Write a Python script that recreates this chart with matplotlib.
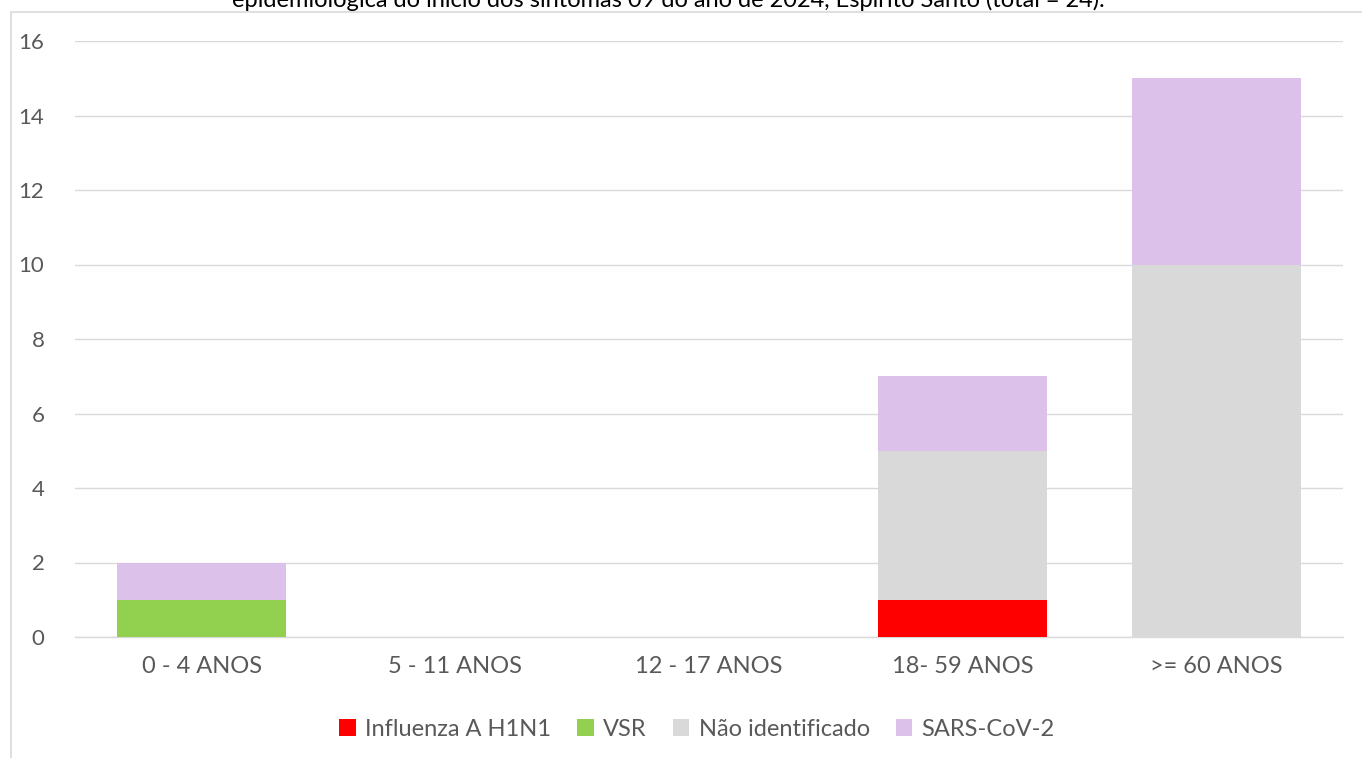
import matplotlib
matplotlib.use("Agg")
import matplotlib.pyplot as plt
from matplotlib.patches import Rectangle
import numpy as np

categories = ["0 - 4 ANOS", "5 - 11 ANOS", "12 - 17 ANOS", "18- 59 ANOS", ">= 60 ANOS"]
influenza = [0, 0, 0, 1, 0]
vsr = [1, 0, 0, 0, 0]
nao_ident = [0, 0, 0, 4, 10]
sars = [1, 0, 0, 2, 5]
series_names = ["Influenza A H1N1", "VSR", "Não identificado", "SARS-CoV-2"]
colors = ["#FF0000", "#92D050", "#D9D9D9", "#DCC2EB"]
yticks = [0, 2, 4, 6, 8, 10, 12, 14, 16]
title = "epidemiológica do início dos sintomas 09 do ano de 2024, Espírito Santo (total = 24)."

plt.rcParams['font.family'] = ['Lato', 'DejaVu Sans']
W, H = 1362, 758
fig = plt.figure(figsize=(W/100, H/100), dpi=100)

# chart frame
fig.patches.append(Rectangle((11/W, -0.1), 1.2, (1 - 12/H) + 0.1, transform=fig.transFigure,
                             fill=False, edgecolor="#D9D9D9", linewidth=1.2, zorder=0))

fig.text(668/W, 1 - 7/H, title, ha="center", va="baseline", fontsize=17, color="#000000")

ax = fig.add_axes([75/W, 1 - 637/H, (1343-75)/W, (637-41)/H])
x = np.arange(len(categories))
data = [influenza, vsr, nao_ident, sars]
bottom = np.zeros(len(categories))
handles = []
for vals, name, c in zip(data, series_names, colors):
    b = ax.bar(x, vals, width=0.667, bottom=bottom, color=c, label=name, zorder=3)
    handles.append(b)
    bottom += np.array(vals)

ax.set_xlim(-0.5, len(categories) - 0.5)
ax.set_ylim(0, 16)
ax.set_yticks(yticks)
ax.set_xticks(x)
ax.set_xticklabels(categories)
ax.grid(axis="y", color="#D9D9D9", linewidth=1, zorder=0)
for s in ["top", "right", "left"]:
    ax.spines[s].set_visible(False)
ax.spines["bottom"].set_color("#D9D9D9")
ax.spines["bottom"].set_linewidth(1)
ax.tick_params(axis="both", length=0, labelsize=16, colors="#595959")
ax.tick_params(axis="x", labelsize=17, pad=14)
ax.tick_params(axis="y", pad=22)

leg = fig.legend(handles=handles, labels=series_names, loc="center", bbox_to_anchor=(697/W, 1 - 729/H),
                 ncol=4, frameon=False, fontsize=17, handlelength=0.7, handleheight=0.7,
                 handletextpad=0.4, columnspacing=1.1, labelcolor="#595959")

fig.savefig("out.png", dpi=100)
